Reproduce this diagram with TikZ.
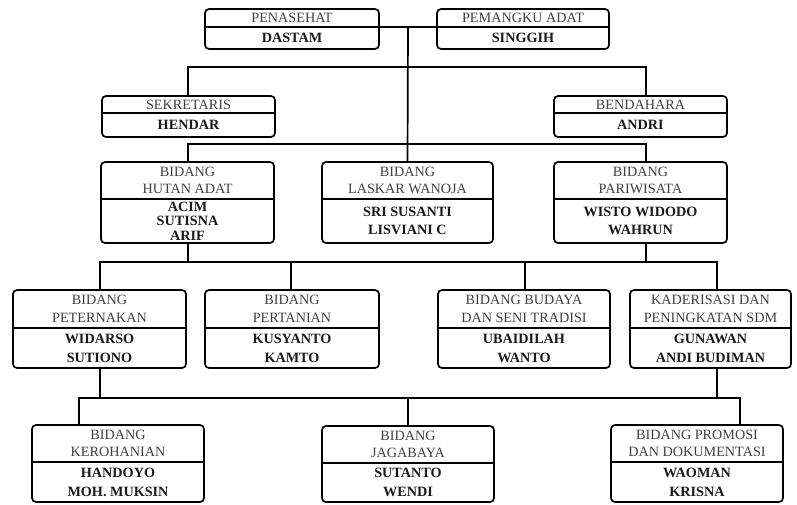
\documentclass[tikz,border=0pt]{standalone}
\usepackage{fontspec}
\setmainfont{Liberation Serif}
\definecolor{uptext}{HTML}{404040}
\definecolor{lowtext}{HTML}{1A1A1A}
\tikzset{
  obox/.style={draw, line width=1.7pt, rounded corners=4pt, inner sep=0pt, outer sep=0pt},
  uptxt/.style={text=uptext, align=center, inner sep=0pt, font=\fontsize{14.2}{17.5}\selectfont},
  lowtxt/.style={text=lowtext, align=center, inner sep=0pt, font=\fontsize{14.2}{19}\selectfont\bfseries},
  conn/.style={line width=1.7pt}
}
% #1 lower text options, #2 name, #3 cx, #4 top, #5 width, #6 upper height, #7 total height, #8 upper, #9 lower
\newcommand\orgbox[9][]{%
  \node[obox, minimum width=#5pt, minimum height=#7pt] (#2) at (#3,{#4+#7/2}) {};
  \draw[line width=1.7pt] ([yshift=-#6pt]#2.north west) -- ([yshift=-#6pt]#2.north east);
  \node[uptxt] at ([yshift={-#6/2*1pt}]#2.north) {#8};
  \node[lowtxt,#1] at ([yshift={-(#6+#7)/2*1pt}]#2.north) {#9};
}
\begin{document}
\begin{tikzpicture}[x=1pt,y=-1pt]
\useasboundingbox (0,0) rectangle (797,504);
% row 1
\orgbox{pen}{292}{9}{174}{18}{40}{PENASEHAT}{DASTAM}
\orgbox{pem}{523}{9}{172}{18}{40}{PEMANGKU ADAT}{SINGGIH}
% row 2
\orgbox{sek}{188.5}{96}{173}{17}{41}{SEKRETARIS}{HENDAR}
\orgbox{ben}{640.5}{96}{173}{17}{41}{BENDAHARA}{ANDRI}
% row 3
\orgbox[font=\fontsize{14.2}{14.5}\selectfont\bfseries]{hut}{187.5}{162}{173}{37}{81}{BIDANG\\HUTAN ADAT}{ACIM\\SUTISNA\\ARIF}
\orgbox[font=\fontsize{14.2}{17.5}\selectfont\bfseries]{las}{407.5}{162}{171}{37}{81}{BIDANG\\LASKAR WANOJA}{SRI SUSANTI\\LISVIANI C}
\orgbox[font=\fontsize{14.2}{17.5}\selectfont\bfseries]{par}{640.5}{162}{173}{37}{81}{BIDANG\\PARIWISATA}{WISTO WIDODO\\WAHRUN}
% row 4
\orgbox{pet}{99.5}{290}{173}{38}{78}{BIDANG\\PETERNAKAN}{WIDARSO\\SUTIONO}
\orgbox{per}{292}{290}{174}{38}{78}{BIDANG\\PERTANIAN}{KUSYANTO\\KAMTO}
\orgbox{bud}{524}{290}{172}{38}{78}{BIDANG BUDAYA\\DAN SENI TRADISI}{UBAIDILAH\\WANTO}
\orgbox{kad}{710.5}{290}{161}{38}{78}{KADERISASI DAN\\PENINGKATAN SDM}{GUNAWAN\\ANDI BUDIMAN}
% row 5
\orgbox{ker}{118}{425}{172}{37}{77}{BIDANG\\KEROHANIAN}{HANDOYO\\MOH. MUKSIN}
\orgbox{jag}{408}{426}{172}{37}{76}{BIDANG\\JAGABAYA}{SUTANTO\\WENDI}
\orgbox{pro}{697}{425}{172}{37}{77}{BIDANG PROMOSI\\DAN DOKUMENTASI}{WAOMAN\\KRISNA}
% junctions
\coordinate (tj) at (408,27);
\coordinate (h1l) at (188,67);
\coordinate (h1r) at (646,67);
\coordinate (h2l) at (188,144);
\coordinate (h2r) at (646,144);
\coordinate (h3l) at (100,262);
\coordinate (h3r) at (717,262);
\coordinate (h4l) at (79,398);
\coordinate (h4r) at (740,398);
% connectors
\draw[conn] ([yshift=-18pt]pen.north east) -- ([yshift=-18pt]pem.north west);
\draw[conn] (tj) -- (las.north);
\draw[conn] (sek.north -| h1l) -- (h1l) -- (h1r) -- (ben.north -| h1r);
\draw[conn] (hut.north -| h2l) -- (h2l) -- (h2r) -- (par.north -| h2r);
\draw[conn] (pet.north -| h3l) -- (h3l) -- (h3r) -- (kad.north -| h3r);
\draw[conn] (hut.south -| h2l) -- (h2l |- h3l);
\draw[conn] (par.south -| h2r) -- (h2r |- h3r);
\draw[conn] (per.north -| 291,0) -- (291,262);
\draw[conn] (bud.north -| 525,0) -- (525,262);
\draw[conn] (pet.south -| h3l) -- (h3l |- h4l);
\draw[conn] (kad.south -| h3r) -- (h3r |- h4r);
\draw[conn] (ker.north -| h4l) -- (h4l) -- (h4r) -- (pro.north -| h4r);
\draw[conn] (jag.north) -- (jag.north |- h4l);
\end{tikzpicture}
\end{document}
